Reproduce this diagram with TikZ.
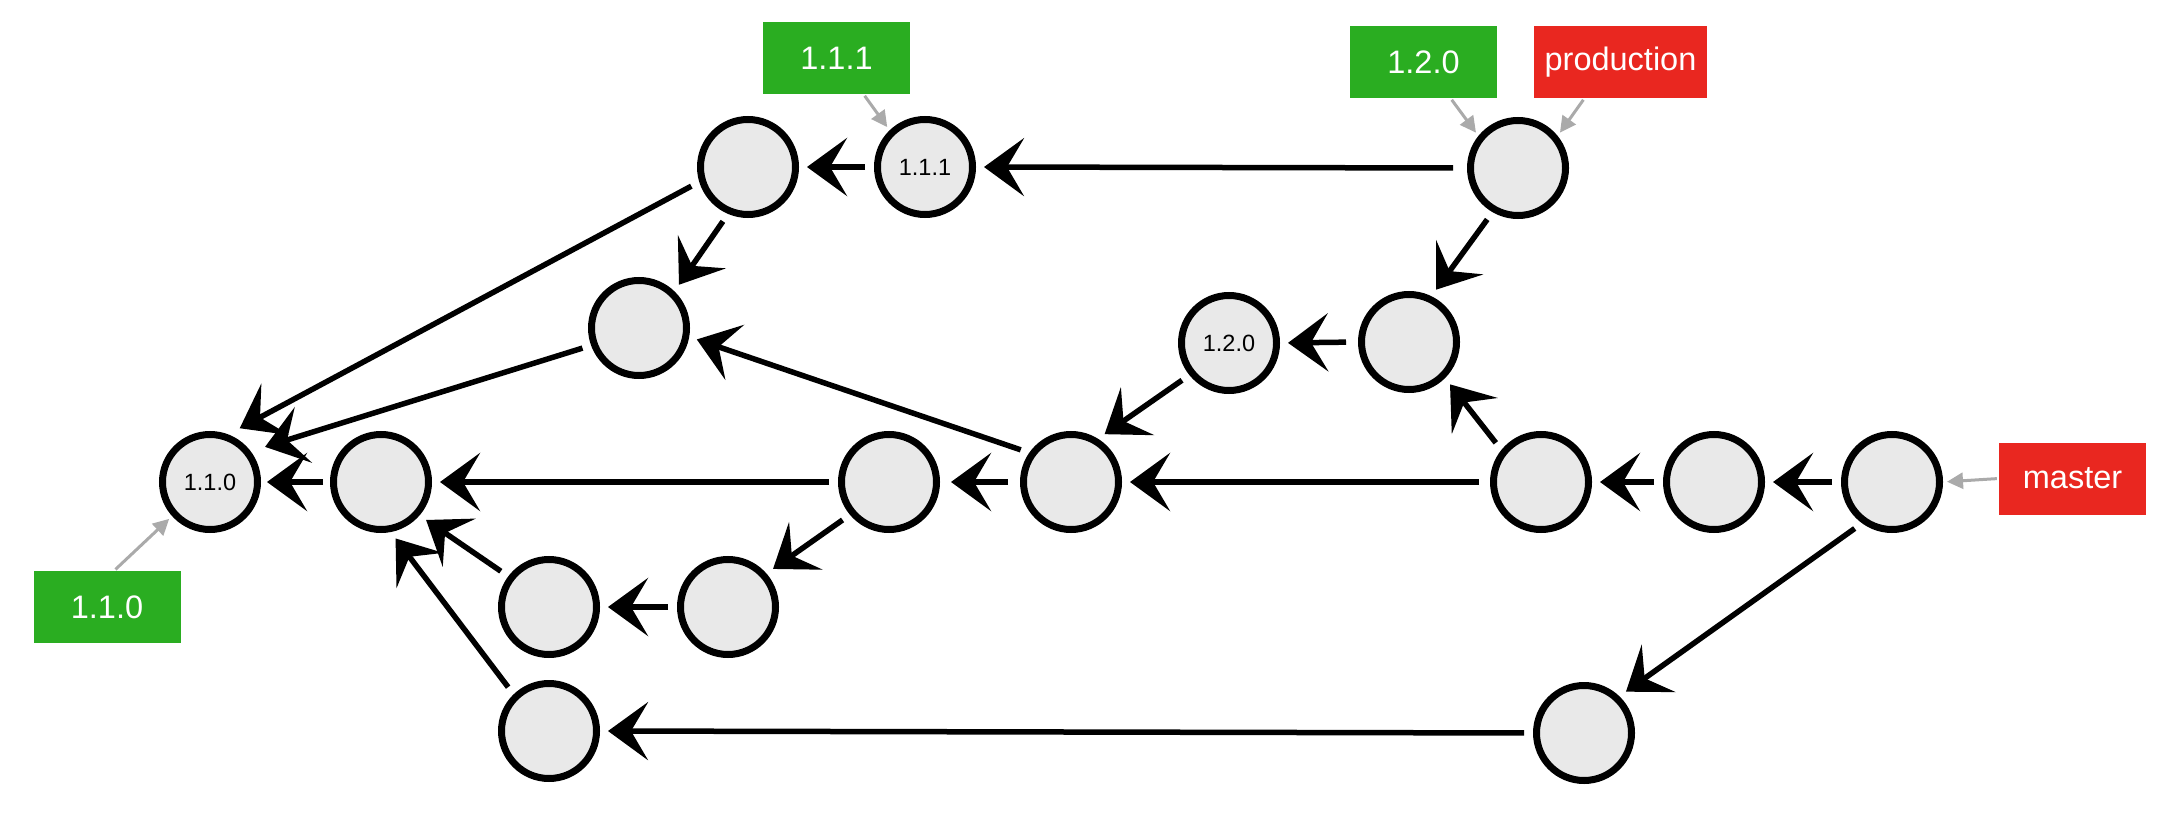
\documentclass[tikz,border=0pt]{standalone}
\usepackage{fontspec}
\setmainfont{Liberation Sans}
\usetikzlibrary{arrows.meta}
\definecolor{commitfill}{RGB}{233,233,233}
\definecolor{taggreen}{RGB}{42,173,33}
\definecolor{branchred}{RGB}{233,39,32}
\definecolor{pointergray}{RGB}{170,170,170}

\begin{document}
\begin{tikzpicture}[x=1pt,y=-1pt,
  commit/.style={circle, draw=black, fill=commitfill, line width=7pt,
    minimum size=95pt, inner sep=0pt, font=\fontsize{23.5}{28}\selectfont},
  tagbox/.style={fill=taggreen, text=white, minimum width=147pt,
    minimum height=72pt, inner sep=0pt, font=\fontsize{32.5}{38}\selectfont},
  branchbox/.style={tagbox, fill=branchred},
  parent/.style={line width=5.5pt,
    -{Stealth[length=40pt,width=58pt,inset=17pt]},
    shorten <=9pt, shorten >=8pt},
  refarrow/.style={draw=pointergray, line width=3pt,
    -{Triangle[length=16pt,width=16pt]}, shorten <=2pt, shorten >=4pt}
]
\useasboundingbox (0,0) rectangle (2178,818);

% commits
\node[commit] (A) at (210,482) {1.1.0};
\node[commit] (B) at (381,482) {};
\node[commit] (C) at (639,328) {};
\node[commit] (D) at (748,167) {};
\node[commit] (E) at (925,167) {1.1.1};
\node[commit] (F) at (1518,168) {};
\node[commit] (G) at (1409,342) {};
\node[commit] (H) at (1229,343) {1.2.0};
\node[commit] (I) at (1071,482) {};
\node[commit] (J) at (889,482) {};
\node[commit] (K) at (1541,482) {};
\node[commit] (L) at (1714,482) {};
\node[commit] (M) at (1892,482) {};
\node[commit] (N) at (728,607) {};
\node[commit] (O) at (549,607) {};
\node[commit] (P) at (549,731) {};
\node[commit] (Q) at (1584,733) {};

% tags and branches
\node[tagbox] (T111) at (836.5,58) {1.1.1};
\node[tagbox] (T120) at (1423.5,62) {1.2.0};
\node[branchbox, minimum width=173pt] (Bprod) at (1620.5,62) {production};
\node[branchbox] (Bmaster) at (2072.5,478.5) {master};
\node[tagbox] (T110) at (107,607) {1.1.0};

% parent links
\draw[parent, shorten >=13pt] (D.197) -- (A.69);
\draw[parent, shorten >=15pt] (C.200) -- (A.37);
\draw[parent] (D.247) -- (C.46);
\draw[parent] (E.west) -- (D.east);
\draw[parent, shorten <=14pt] (F.west) -- (E.east);
\draw[parent] (F.240) -- (G.64);
\draw[parent, shorten <=12pt] (G.west) -- (H.east);
\draw[parent] (H.219) -- (I.58);
\draw[parent] (I.145) -- (C.350);
\draw[parent, shorten <=12pt, shorten >=11pt] (I.west) -- (J.east);
\draw[parent, shorten <=11pt] (K.west) -- (I.east);
\draw[parent] (K.141) -- (G.315);
\draw[parent] (L.west) -- (K.east);
\draw[parent] (M.west) -- (L.east);
\draw[parent] (M.234) -- (Q.46);
\draw[parent] (Q.west) -- (P.east);
\draw[parent] (P.134) -- (B.281);
\draw[parent] (J.west) -- (B.east);
\draw[parent, shorten <=7pt, shorten >=6pt] (B.west) -- (A.east);
\draw[parent] (J.220) -- (N.41);
\draw[parent] (N.west) -- (O.east);
\draw[parent] (O.143) -- (B.319);

% references
\draw[refarrow] ([xshift=27pt]T111.south) -- (E.134);
\draw[refarrow] ([xshift=27pt]T120.south) -- (F.141);
\draw[refarrow] ([xshift=-36pt]Bprod.south) -- (F.39);
\draw[refarrow] (Bmaster.west) -- (M.east);
\draw[refarrow] ([xshift=7pt]T110.north) -- (A.222);
\end{tikzpicture}
\end{document}
